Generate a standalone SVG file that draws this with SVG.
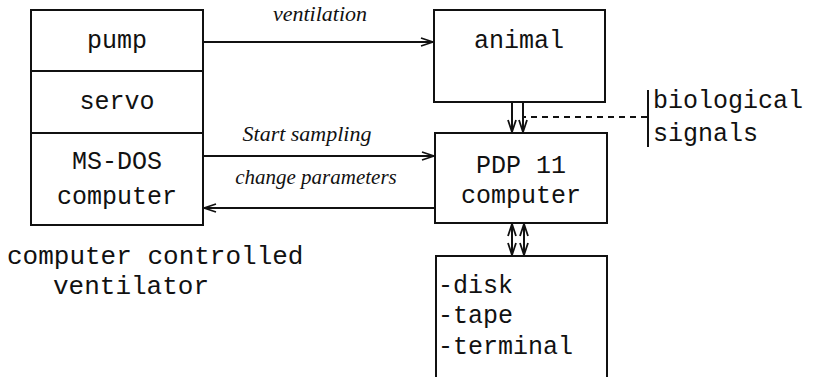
<svg xmlns="http://www.w3.org/2000/svg" width="815" height="377" viewBox="0 0 815 377">
<style>
.box{fill:none;stroke:#111;stroke-width:2}
.mono{font-family:"Liberation Mono","DejaVu Sans Mono",monospace;font-size:25px;fill:#111}
.cap{font-size:26px}
.it{font-family:"Liberation Serif","DejaVu Serif",serif;font-style:italic;font-size:22px;fill:#111}
.sm{font-size:21px}
.ln{fill:none;stroke:#111;stroke-width:2}
.dash{fill:none;stroke:#111;stroke-width:2;stroke-dasharray:6,5}
</style>
<defs>
<marker id="ah" viewBox="0 0 14 10" refX="13" refY="5" markerWidth="14" markerHeight="10" markerUnits="userSpaceOnUse" orient="auto-start-reverse">
<path d="M1,1 L13,5 L1,9" fill="none" stroke="#111" stroke-width="1.8"/>
</marker>
</defs>
<rect width="815" height="377" fill="#fff"/>
<g id="ventilator">
<rect class="box" x="31" y="10" width="172" height="215"/>
<line class="ln" x1="31" y1="71" x2="203" y2="71"/>
<line class="ln" x1="31" y1="133" x2="203" y2="133"/>
<text class="mono" x="117" y="48" text-anchor="middle">pump</text>
<text class="mono" x="117" y="109" text-anchor="middle">servo</text>
<text class="mono" x="117" y="169" text-anchor="middle">MS-DOS</text>
<text class="mono" x="117" y="204" text-anchor="middle">computer</text>
</g>
<g id="caption">
<text class="mono cap" x="7" y="264">computer controlled</text>
<text class="mono cap" x="53" y="294">ventilator</text>
</g>
<g id="animal">
<rect class="box" x="434" y="10" width="171" height="92"/>
<text class="mono" x="519" y="48" text-anchor="middle">animal</text>
</g>
<g id="pdp">
<rect class="box" x="435" y="133" width="172" height="90"/>
<text class="mono" x="521" y="173" text-anchor="middle">PDP 11</text>
<text class="mono" x="521" y="203" text-anchor="middle">computer</text>
</g>
<g id="storage">
<path class="box" d="M436,380 L436,256 L607,256 L607,380"/>
<text class="mono" x="438" y="293">-disk</text>
<text class="mono" x="438" y="323">-tape</text>
<text class="mono" x="438" y="354">-terminal</text>
</g>
<g id="signals">
<line class="ln" x1="648" y1="90" x2="648" y2="147"/>
<text class="mono" x="653" y="108">biological</text>
<text class="mono" x="653" y="141">signals</text>
</g>
<g id="connectors">
<line class="ln" x1="203" y1="42" x2="433" y2="42" marker-end="url(#ah)"/>
<text class="it" x="320" y="21" text-anchor="middle">ventilation</text>
<line class="ln" x1="203" y1="156" x2="434" y2="156" marker-end="url(#ah)"/>
<text class="it" x="307" y="141" text-anchor="middle">Start sampling</text>
<line class="ln" x1="435" y1="208" x2="204" y2="208" marker-end="url(#ah)"/>
<text class="it sm" x="316" y="184" text-anchor="middle">change parameters</text>
<line class="ln" x1="512" y1="102" x2="512" y2="132" marker-end="url(#ah)"/>
<line class="ln" x1="523" y1="102" x2="523" y2="132" marker-end="url(#ah)"/>
<line class="dash" x1="647" y1="117" x2="524" y2="117"/>
<line class="ln" x1="512" y1="224" x2="512" y2="255" marker-start="url(#ah)" marker-end="url(#ah)"/>
<line class="ln" x1="524" y1="224" x2="524" y2="255" marker-start="url(#ah)" marker-end="url(#ah)"/>
</g>
</svg>
